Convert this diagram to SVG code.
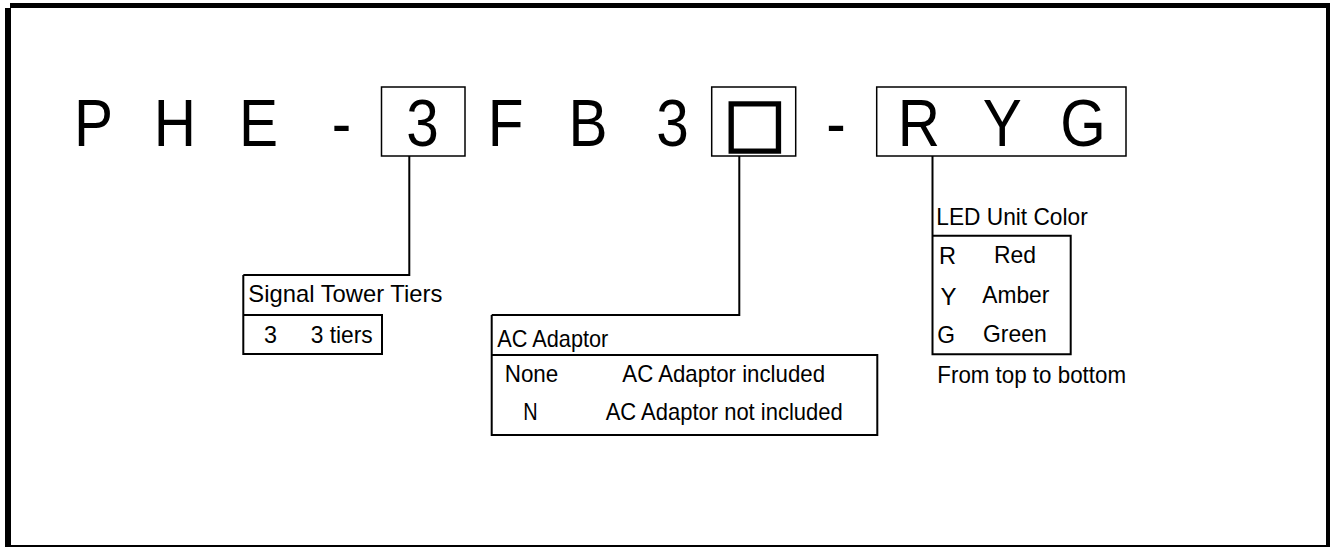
<svg xmlns="http://www.w3.org/2000/svg" width="1330" height="547" viewBox="0 0 1330 547">
<style>
.big{font-family:"Liberation Sans",Arial,sans-serif;font-size:66.5px;fill:#000;text-anchor:middle}
.t{font-family:"Liberation Sans",Arial,sans-serif;font-size:24px;fill:#000}
.box{fill:none;stroke:#000;stroke-width:1.5}
.ln{fill:none;stroke:#000;stroke-width:2}
</style>
<rect width="1330" height="547" fill="#fff"/>
<g id="frame" fill="#000">
<rect x="10" y="3" width="1320" height="5"/>
<rect x="5" y="8" width="6" height="539"/>
<rect x="1326" y="3" width="4" height="544"/>
<rect x="5" y="545" width="1325" height="2"/>
</g>
<g id="model">
<rect class="box" x="381.5" y="87" width="83.5" height="69"/>
<rect class="box" x="711.7" y="87" width="84" height="69"/>
<rect class="box" x="876.7" y="87" width="249.3" height="69"/>
<g transform="scale(0.88 1)">
<text class="big" x="106.25 198.6 293.75 388.1 480.1 574.5 668.2 764.2" y="146">PHE-3FB3</text>
<text class="big" x="950 1044.1 1139 1230.7" y="146">-RYG</text>
</g>
<text id="sq" x="755" y="144.5" style="font-family:'DejaVu Sans',sans-serif;font-size:67px;text-anchor:middle;stroke:#000;stroke-width:1.6">□</text>
</g>
<g id="connectors">
<path class="ln" d="M409.3,156 V275 H243.3"/>
<path class="ln" d="M739.3,156 V315 H491.7"/>
<path class="ln" d="M932.5,156 V236"/>
</g>
<g id="tiers">
<path class="ln" d="M243.3,275 V354 H382 V315 H243.3"/>
<text class="t" x="248.3" y="302" textLength="194" lengthAdjust="spacingAndGlyphs">Signal Tower Tiers</text>
<text class="t" x="264" y="343.3" textLength="13" lengthAdjust="spacingAndGlyphs">3</text>
<text class="t" x="310.7" y="343.3" textLength="62" lengthAdjust="spacingAndGlyphs">3 tiers</text>
</g>
<g id="adaptor">
<path class="ln" d="M491.7,315 V435 H877.3 V355 H491.7"/>
<text class="t" x="497.3" y="346.7" textLength="111" lengthAdjust="spacingAndGlyphs">AC Adaptor</text>
<text class="t" x="504.7" y="382.3" textLength="53.6" lengthAdjust="spacingAndGlyphs">None</text>
<text class="t" x="622.3" y="382.3" textLength="202.7" lengthAdjust="spacingAndGlyphs">AC Adaptor included</text>
<text class="t" x="523.3" y="420" textLength="14.4" lengthAdjust="spacingAndGlyphs">N</text>
<text class="t" x="605.7" y="420" textLength="237" lengthAdjust="spacingAndGlyphs">AC Adaptor not included</text>
</g>
<g id="led">
<path class="ln" d="M932.5,236 V354.3 H1070.7 V235.7 H932.5"/>
<text class="t" x="936.3" y="225" textLength="151.4" lengthAdjust="spacingAndGlyphs">LED Unit Color</text>
<text class="t" x="939" y="264" textLength="17" lengthAdjust="spacingAndGlyphs">R</text>
<text class="t" x="994" y="263.3" textLength="42" lengthAdjust="spacingAndGlyphs">Red</text>
<text class="t" x="940.5" y="305" textLength="16" lengthAdjust="spacingAndGlyphs">Y</text>
<text class="t" x="982.3" y="303.3" textLength="67" lengthAdjust="spacingAndGlyphs">Amber</text>
<text class="t" x="937.3" y="343.3" textLength="17.7" lengthAdjust="spacingAndGlyphs">G</text>
<text class="t" x="983" y="341.7" textLength="63.7" lengthAdjust="spacingAndGlyphs">Green</text>
<text class="t" x="937.3" y="383.3" textLength="188.7" lengthAdjust="spacingAndGlyphs">From top to bottom</text>
</g>
</svg>
